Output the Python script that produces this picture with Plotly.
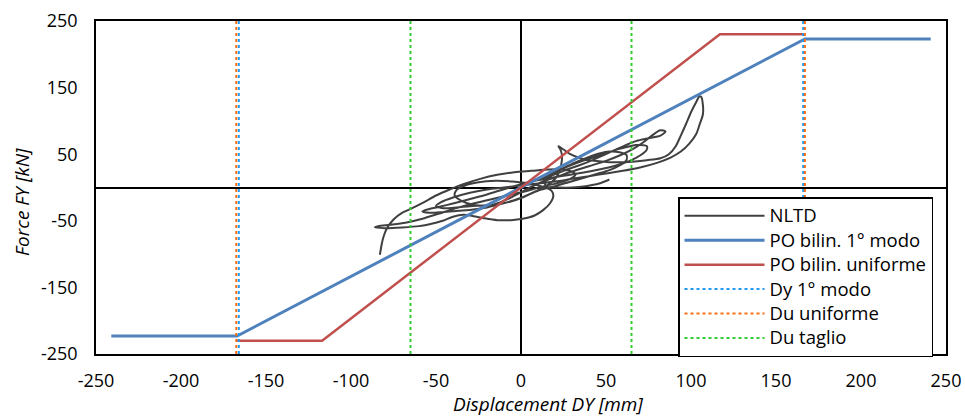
import plotly.graph_objects as go

# Nonlinear time-history response (displacement [mm], force [kN])
nltd_x = [
    -83, -82, -81, -79, -75, -70, -64, -57, -50, -42, -34, -24, -14, -4, 6, 16, 24, 30, 32, 29,
    22, 12, 2, -8, -18, -28, -38, -48, -58, -68, -77, -84, -86, -80, -70, -60, -52, -46,
    -40, -34, -28, -22, -14, -6, 1, 8, 13, 17, 19, 18,
    13, 5, -5, -15, -25, -33, -38, -39, -35, -28, -19, -12, -6, 0, 6, 13, 21,
    30, 40, 50, 58, 66, 72, 77, 82, 85, 82, 75, 68, 62, 55, 48, 41, 34, 27, 20, 12, 4,
    -4, -13, -22, -31, -40, -48, -55, -58, -54, -46, -37, -28, -20, -12, -4, 4, 11, 17, 21, 23, 24, 24, 23, 22, 25, 29,
    35, 43, 52, 60, 67, 74, 82, 87, 91, 94, 97, 100, 103, 105, 106, 107, 107, 105, 103, 99, 94, 88, 80, 70, 60, 50, 40, 30, 20, 10, 0,
    -10, -20, -30, -40, -47, -50, -46, -38, -30, -22, -14, -6, 0, 6,
    12, 20, 28, 36, 44, 52, 58, 62, 62, 58, 52, 46, 40, 34, 28, 22, 16, 10, 5, 8, 16, 26, 36, 46, 56, 64, 70, 74, 74, 70,
    64, 58, 52, 46, 40, 33, 26, 20, 16, 14, 16, 22, 30, 38, 46, 52,
]
nltd_y = [
    -101, -86, -75, -62, -48, -38, -31, -22, -12, -3, 5, 13, 19, 23, 25, 27, 27, 24, 19, 13,
    7, 1, -6, -12, -18, -24, -31, -39, -47, -53, -56, -58, -60, -61, -60, -58, -54, -50,
    -44, -41, -43, -46, -49, -49, -47, -42, -34, -24, -13, -5,
    1, 6, 9, 10, 8, 3, -4, -12, -20, -26, -27, -22, -15, -7, 1, 9, 16,
    24, 32, 40, 48, 58, 68, 78, 86, 84, 78, 74, 70, 64, 56, 48, 40, 33, 27, 20, 14, 8,
    2, -5, -12, -18, -24, -29, -33, -36, -38, -37, -35, -33, -30, -25, -19, -11, -3, 6, 16, 28, 40, 50, 58, 62, 57, 50,
    44, 40, 38, 38, 39, 41, 44, 50, 62, 78, 95, 113, 128, 137, 136, 124, 110, 94, 80, 66, 54, 45, 37, 30, 25, 21, 17, 13, 9, 6, 3,
    0, -3, -8, -15, -22, -28, -31, -30, -28, -27, -25, -21, -16, -9,
    -3, 2, 8, 14, 20, 26, 33, 41, 49, 53, 54, 51, 46, 40, 33, 26, 19, 13, 8, 10, 14, 18, 22, 27, 33, 40, 48, 57, 62, 64,
    62, 58, 53, 48, 43, 37, 30, 22, 14, 6, 1, 0, 0, 2, 6, 12,
]

# Bilinear pushover curves
po_modo_x = [-241, -167, 167, 241]
po_modo_y = [-223, -223, 223, 223]
po_unif_x = [-167, -117, 117, 167]
po_unif_y = [-230, -230, 230, 230]

# Reference displacements
dy_modo = [-166, 166]
du_unif = [-167.5, 167]
du_taglio = [-65, 65]
y_span = [-250, 250]

x_ticks = [-250, -200, -150, -100, -50, 0, 50, 100, 150, 200, 250]
y_ticks = [-250, -150, -50, 50, 150, 250]

FONT = "Open Sans"


def entry(label):
    # legend rows stay compact while the label glyphs are drawn slightly larger
    return f"<span style='font-size:18.5px'>{label}</span>"


fig = go.Figure()

fig.add_trace(go.Scatter(x=nltd_x, y=nltd_y, mode="lines", name=entry("NLTD"),
                         line=dict(color="#404040", width=2, shape="spline", smoothing=0.8)))
fig.add_trace(go.Scatter(x=po_modo_x, y=po_modo_y, mode="lines", name=entry("PO bilin. 1° modo"),
                         line=dict(color="#4F81BD", width=3)))
fig.add_trace(go.Scatter(x=po_unif_x, y=po_unif_y, mode="lines", name=entry("PO bilin. uniforme"),
                         line=dict(color="#C0504D", width=2.5)))


def vlines(xs, name, color):
    first = True
    for xv in xs:
        fig.add_trace(go.Scatter(x=[xv, xv], y=y_span, mode="lines", name=entry(name),
                                 legendgroup=name, showlegend=first,
                                 line=dict(color=color, width=2, dash="dot")))
        first = False


vlines(dy_modo, "Dy 1° modo", "#1E9BF0")
vlines(du_unif, "Du uniforme", "#FA6E14")
vlines(du_taglio, "Du taglio", "#33CC33")

axis_common = dict(
    showgrid=False, automargin=False,
    zeroline=True, zerolinecolor="black", zerolinewidth=2,
    showline=True, linecolor="black", linewidth=1.5, mirror=True,
    ticks="", tickfont=dict(family=FONT, size=18, color="black"),
)

# hyphen-minus labels as in a spreadsheet chart
fig.update_xaxes(range=[-250, 250], tickvals=x_ticks, ticktext=[str(v) for v in x_ticks],
                 ticklabelstandoff=10, **axis_common)
fig.update_yaxes(range=[-250, 250], tickvals=y_ticks, ticktext=[str(v) for v in y_ticks],
                 ticklabelstandoff=13, **axis_common)

PL, PR, PT, PB = 96, 19, 21, 65
W, H = 965, 419
pw, ph = W - PL - PR, H - PT - PB


def px_to_paper(px, py):
    return (px - PL) / pw, (H - PB - py) / ph


lx, ly = px_to_paper(678, 197)
tx, ty = px_to_paper(548, 404)
yx, yy = px_to_paper(22, 202)

fig.update_layout(
    width=W, height=H,
    margin=dict(l=PL, r=PR, t=PT, b=PB),
    paper_bgcolor="white", plot_bgcolor="white",
    showlegend=True,
    legend=dict(x=lx, y=ly, xanchor="left", yanchor="top",
                bgcolor="white", bordercolor="black", borderwidth=1.5,
                font=dict(family=FONT, size=16.5, color="black"),
                itemwidth=80, tracegroupgap=0),
    annotations=[
        dict(text="<i>Displacement DY [mm]</i>", x=tx, y=ty, xref="paper", yref="paper",
             xanchor="center", yanchor="middle", showarrow=False,
             font=dict(family=FONT, size=19, color="black")),
        dict(text="<i>Force FY [kN]</i>", x=yx, y=yy, xref="paper", yref="paper",
             xanchor="center", yanchor="middle", textangle=-90, showarrow=False,
             font=dict(family=FONT, size=19, color="black")),
    ],
)

fig.write_html("out.html")
